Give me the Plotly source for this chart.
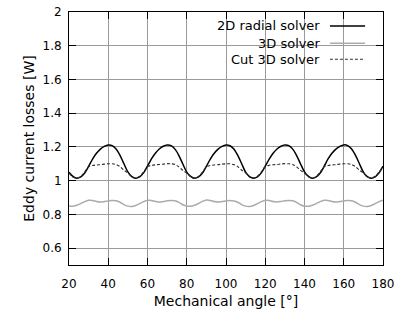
import plotly.graph_objects as go

angles = [20, 22, 24, 26, 28, 30, 32, 34, 36, 38, 40, 42, 44, 46, 48,
          50, 52, 54, 56, 58, 60, 62, 64, 66, 68, 70, 72, 74, 76, 78,
          80, 82, 84, 86, 88, 90, 92, 94, 96, 98, 100, 102, 104, 106, 108,
          110, 112, 114, 116, 118, 120, 122, 124, 126, 128, 130, 132, 134, 136, 138,
          140, 142, 144, 146, 148, 150, 152, 154, 156, 158, 160, 162, 164, 166, 168,
          170, 172, 174, 176, 178, 180]

radial_2d = [1.050, 1.025, 1.014, 1.022, 1.045, 1.085, 1.128, 1.162, 1.187, 1.203, 1.211, 1.208, 1.188, 1.150, 1.100,
             1.052, 1.024, 1.015, 1.023, 1.046, 1.086, 1.129, 1.163, 1.188, 1.204, 1.212, 1.208, 1.187, 1.149, 1.099,
             1.051, 1.025, 1.014, 1.022, 1.045, 1.085, 1.128, 1.162, 1.187, 1.203, 1.211, 1.207, 1.188, 1.150, 1.100,
             1.051, 1.024, 1.015, 1.023, 1.046, 1.086, 1.128, 1.163, 1.188, 1.204, 1.211, 1.208, 1.187, 1.149, 1.099,
             1.052, 1.025, 1.014, 1.022, 1.045, 1.085, 1.129, 1.162, 1.187, 1.203, 1.212, 1.208, 1.188, 1.150, 1.100,
             1.051, 1.024, 1.015, 1.023, 1.046, 1.086]

solver_3d = [0.850, 0.849, 0.854, 0.864, 0.876, 0.884, 0.883, 0.876, 0.873, 0.876, 0.880, 0.883, 0.881, 0.872, 0.858,
             0.849, 0.847, 0.853, 0.864, 0.876, 0.884, 0.883, 0.877, 0.873, 0.876, 0.881, 0.883, 0.881, 0.871, 0.857,
             0.850, 0.848, 0.854, 0.865, 0.877, 0.885, 0.883, 0.876, 0.873, 0.876, 0.880, 0.883, 0.880, 0.872, 0.858,
             0.849, 0.847, 0.853, 0.864, 0.876, 0.884, 0.883, 0.876, 0.874, 0.877, 0.881, 0.883, 0.881, 0.871, 0.857,
             0.849, 0.848, 0.854, 0.864, 0.876, 0.884, 0.883, 0.876, 0.873, 0.876, 0.880, 0.883, 0.881, 0.872, 0.858,
             0.849, 0.847, 0.853, 0.864, 0.876, 0.884]

cut_3d = [1.045, 1.022, 1.015, 1.025, 1.052, 1.082, 1.090, 1.093, 1.095, 1.098, 1.100, 1.100, 1.096, 1.083, 1.062,
          1.046, 1.022, 1.016, 1.026, 1.052, 1.083, 1.091, 1.094, 1.096, 1.098, 1.101, 1.100, 1.096, 1.082, 1.061,
          1.045, 1.023, 1.015, 1.025, 1.051, 1.082, 1.090, 1.093, 1.095, 1.098, 1.100, 1.100, 1.095, 1.083, 1.062,
          1.046, 1.022, 1.016, 1.026, 1.052, 1.083, 1.091, 1.094, 1.096, 1.099, 1.101, 1.100, 1.096, 1.082, 1.061,
          1.045, 1.023, 1.015, 1.025, 1.052, 1.082, 1.090, 1.093, 1.095, 1.098, 1.100, 1.100, 1.096, 1.083, 1.062,
          1.046, 1.022, 1.016, 1.026, 1.052, 1.083]

series_names = ["2D radial solver", "3D solver", "Cut 3D solver"]
x_ticks = [20, 40, 60, 80, 100, 120, 140, 160, 180]
y_ticks = [0.6, 0.8, 1.0, 1.2, 1.4, 1.6, 1.8, 2.0]
y_ticktext = ["0.6", "0.8", "1", "1.2", "1.4", "1.6", "1.8", "2"]

styles = [
    dict(color="black", width=1.5, dash="solid"),
    dict(color="#ababab", width=1.5, dash="solid"),
    dict(color="#303030", width=1.1, dash="3px,2px"),
]

fig = go.Figure()
for name, vals, st in zip(series_names, [radial_2d, solver_3d, cut_3d], styles):
    fig.add_trace(go.Scatter(x=angles, y=vals, mode="lines", name=name,
                             line=dict(color=st["color"], width=st["width"], dash=st["dash"],
                                       shape="spline", smoothing=0.8)))

font = dict(family="DejaVu Sans", size=12, color="black")
legend_font = dict(family="DejaVu Sans", size=13, color="black")

fig.update_layout(
    width=396, height=320,
    margin=dict(l=69, r=13, t=12, b=55, autoexpand=False),
    plot_bgcolor="white", paper_bgcolor="white",
    showlegend=False,
    font=font,
)
fig.update_xaxes(range=[20, 180], tickvals=x_ticks, ticks="inside", ticklen=7, tickcolor="black",
                 showline=True, linecolor="black", linewidth=1, mirror="ticks",
                 showgrid=True, gridcolor="#9a9a9a", gridwidth=1, zeroline=False, automargin=False,
                 ticklabelstandoff=8,
                 title=dict(text="Mechanical angle [°]", standoff=5), tickfont=font)
fig.update_yaxes(range=[0.5, 2.0], tickvals=y_ticks, ticktext=y_ticktext, ticks="inside", ticklen=7,
                 tickcolor="black", showline=True, linecolor="black", linewidth=1, mirror="ticks",
                 showgrid=True, gridcolor="#9a9a9a", gridwidth=1, zeroline=False, automargin=False,
                 ticklabelstandoff=4,
                 title=dict(text="Eddy current losses [W]", standoff=4), tickfont=font)

# legend background box (covers grid)
fig.add_shape(type="rect", xref="paper", yref="paper", x0=0.427, x1=0.975, y0=0.775, y1=1.0,
              fillcolor="white", line=dict(width=0), layer="between")

rows_y = [0.945, 0.876, 0.813]
for name, st, yy in zip(series_names, styles, rows_y):
    fig.add_annotation(xref="paper", yref="paper", x=0.806, y=yy, text=name, showarrow=False,
                       xanchor="right", yanchor="middle", font=legend_font)
    fig.add_shape(type="line", xref="paper", yref="paper", x0=0.831, x1=0.943, y0=yy, y1=yy,
                  line=dict(color=st["color"], width=st["width"], dash=st["dash"]))

fig.write_html("out.html")
